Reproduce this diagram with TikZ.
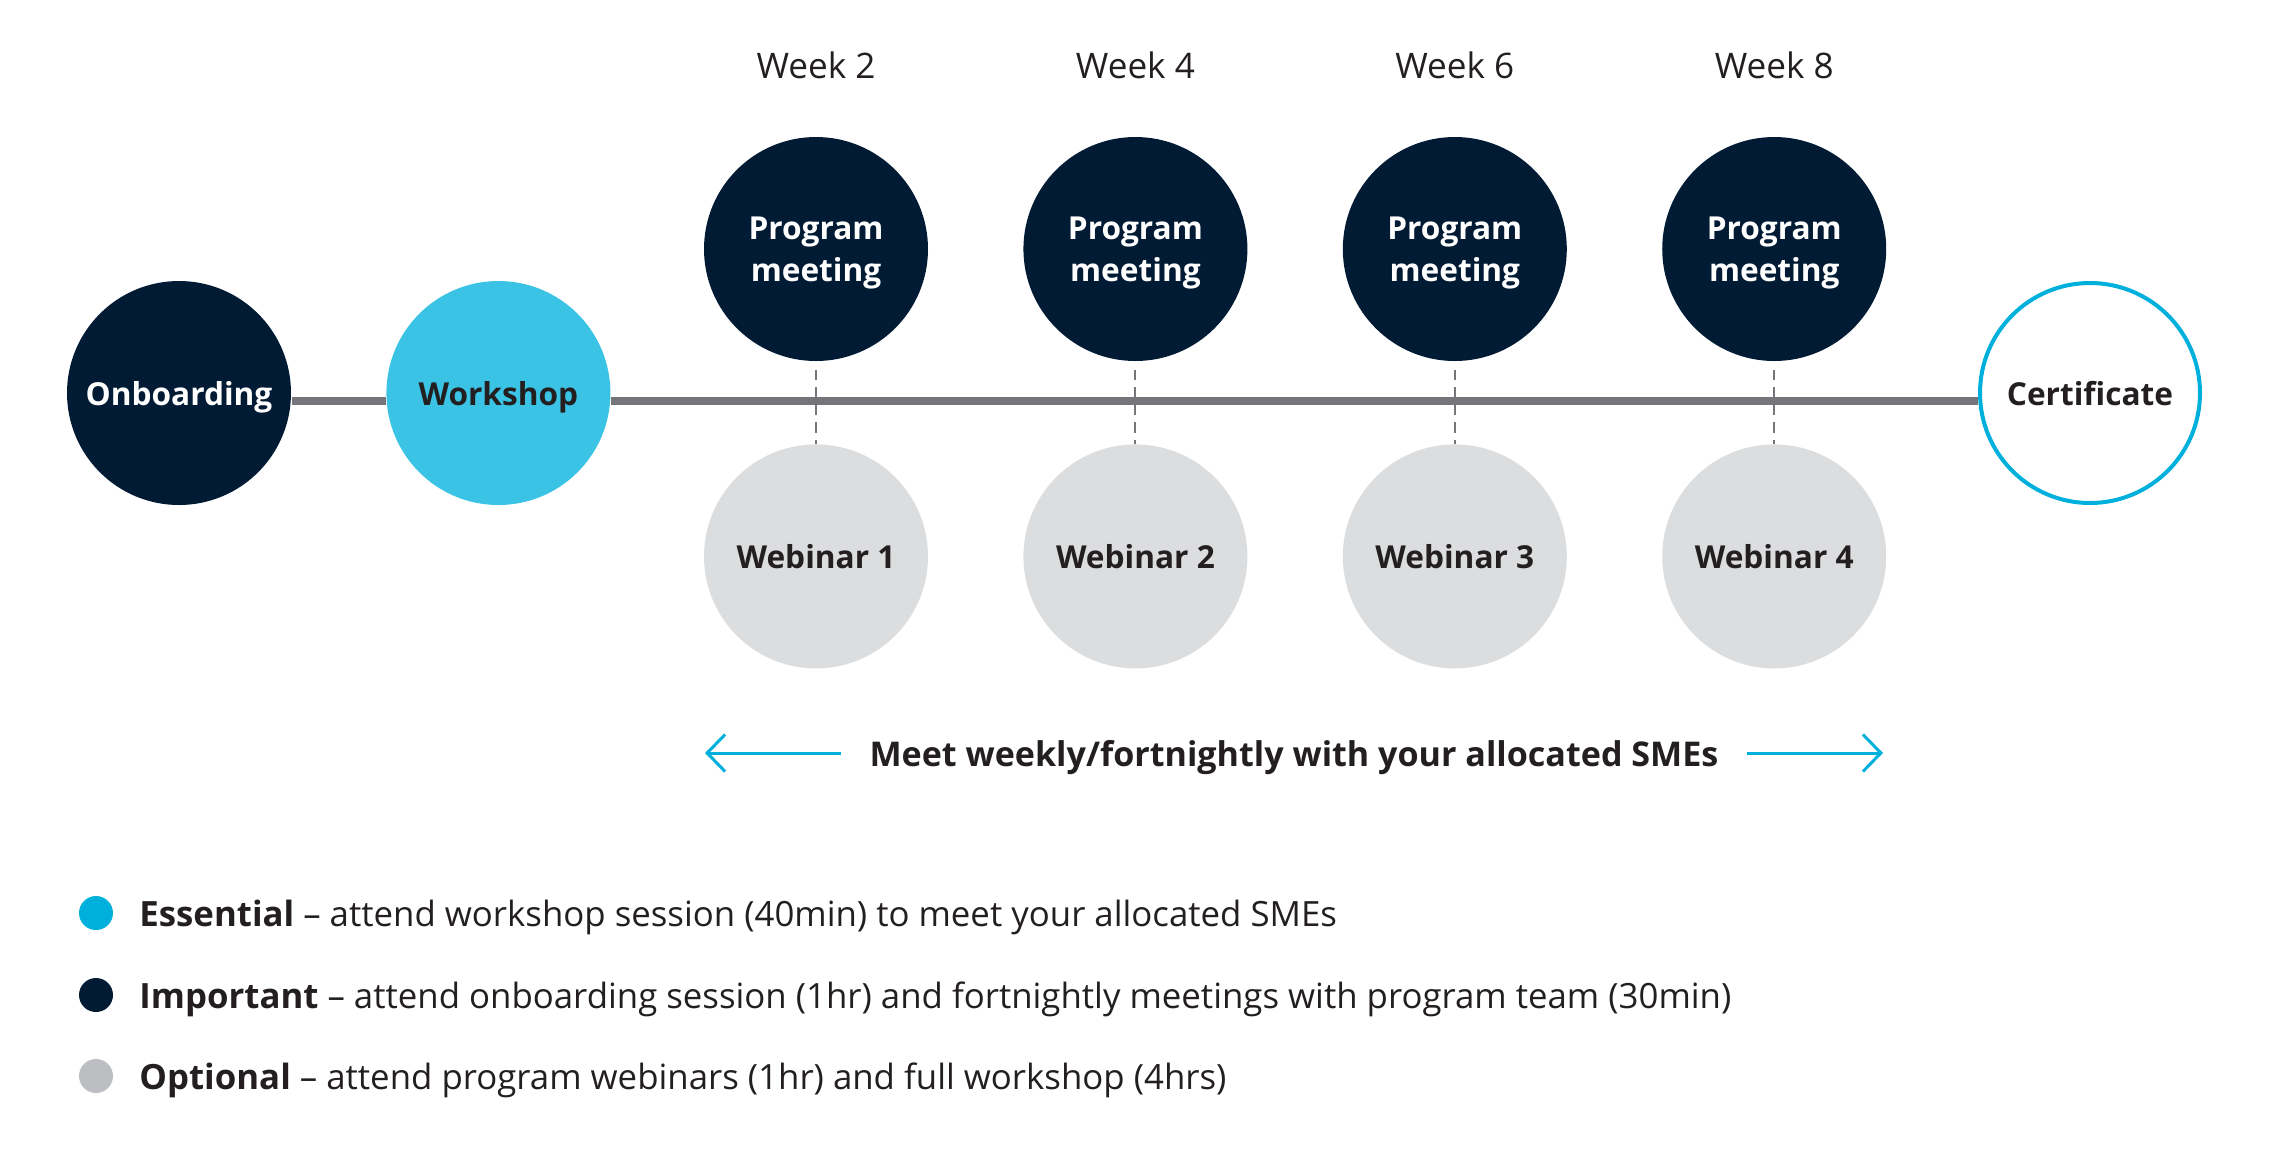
\documentclass[tikz,border=0pt]{standalone}
\usepackage{fontspec}
\setmainfont{Open Sans}
\usepackage{xcolor}
\usetikzlibrary{positioning,arrows.meta}
\definecolor{navy}{HTML}{021B35}
\definecolor{skyfill}{HTML}{3BC3E5}
\definecolor{skyline}{HTML}{00B0DC}
\definecolor{webgray}{HTML}{DCDDDF}
\definecolor{dotgray}{HTML}{BCBEC2}
\definecolor{linegray}{HTML}{76767A}
\definecolor{ink}{HTML}{231F20}

\begin{document}
\begin{tikzpicture}[x=1cm,y=1cm,
    stage/.style={circle,minimum size=2.24cm,inner sep=0pt,align=center,text depth=0pt,
                  font=\fontsize{9}{12}\selectfont\bfseries},
    important/.style={stage,fill=navy,text=white},
    essential/.style={stage,fill=skyfill,text=ink},
    optional/.style={stage,fill=webgray,text=ink},
    goal/.style={stage,minimum size=2.2cm,draw=skyline,line width=0.04cm,fill=white,text=ink},
    weeklbl/.style={inner sep=0pt,text=ink,font=\fontsize{10}{12}\selectfont},
    timeline/.style={line width=0.08cm,linegray},
    dashline/.style={line width=0.6pt,linegray,dash pattern=on 3pt off 2pt},
    meetarrow/.style={line width=0.85pt,skyline,-{Straight Barb[length=0.18cm,width=0.37cm]}},
    keydot/.style={circle,minimum size=0.34cm,inner sep=0pt},
    keytext/.style={inner sep=0pt,anchor=west,text=ink,text depth=0pt,font=\fontsize{9.9}{12}\selectfont}]
\useasboundingbox (0,0) rectangle (22.8,-11.48);

% stages along the line
\node[important] (onb) at (1.79,-3.93) {Onboarding};
\node[essential,right=0.94cm of onb] (work) {Workshop};
\node[goal] (cert) at (20.90,-3.93) {Certificate};

% program meetings and webinars
\node[important] (pm1) at (8.16,-2.49) {Program\\meeting};
\node[important,right=0.94cm of pm1] (pm2) {Program\\meeting};
\node[important,right=0.94cm of pm2] (pm3) {Program\\meeting};
\node[important,right=0.94cm of pm3] (pm4) {Program\\meeting};
\node[optional,below=0.82cm of pm1] (web1) {Webinar 1};
\node[optional,below=0.82cm of pm2] (web2) {Webinar 2};
\node[optional,below=0.82cm of pm3] (web3) {Webinar 3};
\node[optional,below=0.82cm of pm4] (web4) {Webinar 4};

% week labels
\node[weeklbl,above=0.57cm of pm1] (wk2) {Week 2};
\node[weeklbl,above=0.57cm of pm2] (wk4) {Week 4};
\node[weeklbl,above=0.57cm of pm3] (wk6) {Week 6};
\node[weeklbl,above=0.57cm of pm4] (wk8) {Week 8};

% the line
\draw[timeline] ([yshift=-0.08cm]onb.east) -- ([yshift=-0.08cm]work.west);
\draw[timeline] ([yshift=-0.08cm]work.east) -- ([yshift=-0.08cm]cert.west);
\draw[dashline] ([yshift=-0.08cm]pm1.south) -- (web1.north);
\draw[dashline] ([yshift=-0.08cm]pm2.south) -- (web2.north);
\draw[dashline] ([yshift=-0.08cm]pm3.south) -- (web3.north);
\draw[dashline] ([yshift=-0.08cm]pm4.south) -- (web4.north);

% meet weekly
\node[inner ysep=0pt,inner xsep=0.28cm,text depth=0pt,text=ink,font=\fontsize{9.7}{12}\selectfont\bfseries]
    (meet) at (12.94,-7.53) {Meet weekly/fortnightly with your allocated SMEs};
\coordinate (lefttip) at (7.05,-7.53);
\coordinate (righttip) at (18.83,-7.53);
\draw[meetarrow] (meet.west) -- (lefttip);
\draw[meetarrow] (meet.east) -- (righttip);

% key
\node[keydot,fill=skyline] (dot1) at (0.96,-9.13) {};
\node[keydot,fill=navy] (dot2) at (0.96,-9.95) {};
\node[keydot,fill=dotgray] (dot3) at (0.96,-10.76) {};
\node[keytext,right=0.25cm of dot1] (key1) {\textbf{Essential} -- attend workshop session (40min) to meet your allocated SMEs};
\node[keytext,right=0.25cm of dot2] (key2) {\textbf{Important} -- attend onboarding session (1hr) and fortnightly meetings with program team (30min)};
\node[keytext,right=0.25cm of dot3] (key3) {\textbf{Optional} -- attend program webinars (1hr) and full workshop (4hrs)};
\end{tikzpicture}
\end{document}
